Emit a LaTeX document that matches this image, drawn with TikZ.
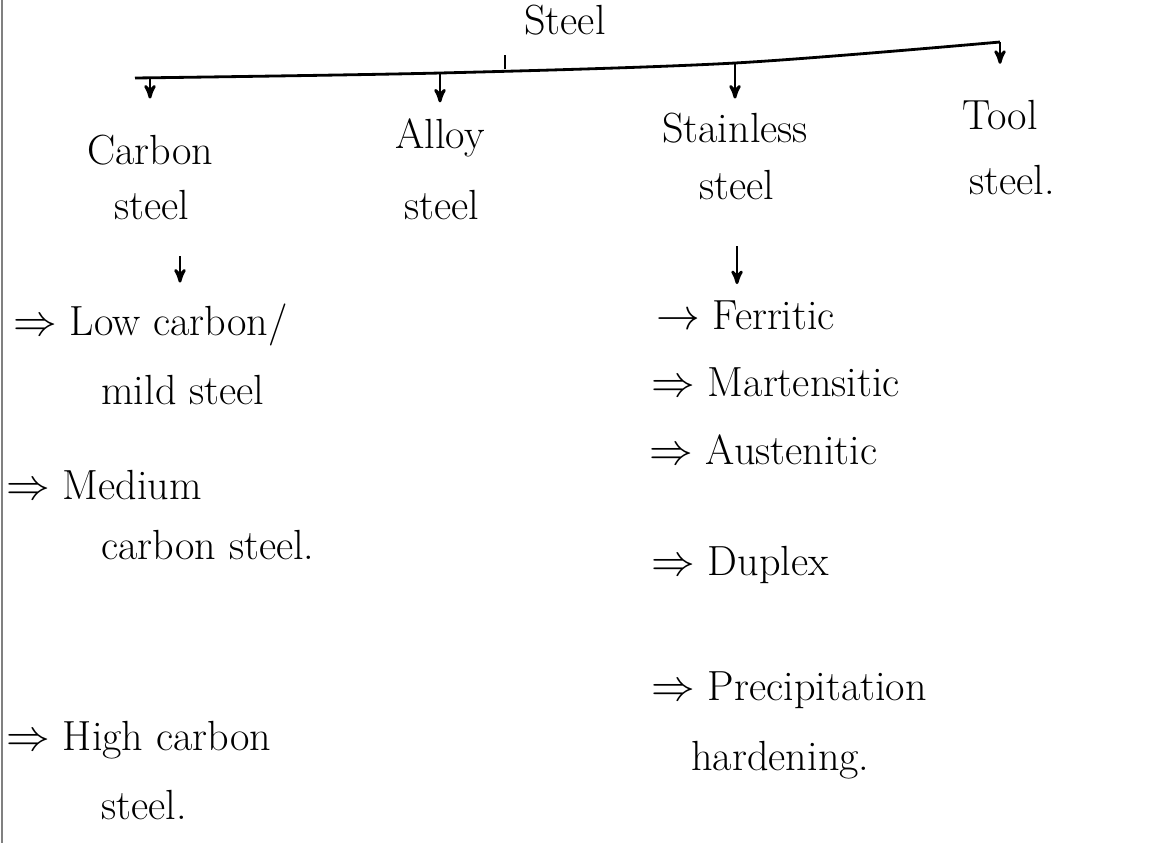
\documentclass[tikz,border=0pt]{standalone}
\usepackage{fontspec}
\usepackage{tikz}
\usetikzlibrary{arrows}

\begin{document}
\begin{tikzpicture}[x=0.02cm,y=-0.02cm,>=stealth',line width=1.6pt,
    head node/.style={inner sep=0pt,font=\fontsize{24}{28}\selectfont},
    item node/.style={head node,anchor=west}]
    \useasboundingbox (0,0) rectangle (1151,843);
    \draw[gray,line width=1.5pt] (2,0) -- (2,843);
    % top of the tree
    \node[head node] (steel) at (565,20) {Steel};
    \coordinate (b0) at (135,78);
    \coordinate (b1) at (150,77);
    \coordinate (b2) at (440,73);
    \coordinate (bc) at (505,69);
    \coordinate (b3) at (735,63);
    \coordinate (b4) at (1000,42);
    \draw plot[smooth,tension=0.5] coordinates {(b0) (b2) (b3) (b4)};
    \draw (bc) -- ++(0,-14);
    % the four kinds
    \node[head node] (carbon1) at (150,150) {Carbon};
    \node[head node] (carbon2) at (152,205) {steel};
    \node[head node] (alloy1) at (440,138) {Alloy};
    \node[head node] (alloy2) at (442,205) {steel};
    \node[head node] (stain1) at (735,128) {Stainless};
    \node[head node] (stain2) at (737,185) {steel};
    \node[head node] (tool1) at (1000,115) {Tool};
    \node[head node] (tool2) at (1012,180) {steel.};
    \draw[->,shorten >=0.7cm] (b1) -- (b1 |- carbon1.north);
    \draw[->,shorten >=0.3cm] (b2) -- (b2 |- alloy1.north);
    \draw[->,shorten >=0.26cm] (b3) -- (b3 |- stain1.north);
    \draw[->,shorten >=0.7cm] (b4) -- (b4 |- tool1.north);
    % carbon steel list
    \node[item node] (low1) at (12,325) {$\Rightarrow$ Low carbon/};
    \node[item node] (low2) at (100,390) {mild steel};
    \node[item node] (med1) at (5,485) {$\Rightarrow$ Medium};
    \node[item node] (med2) at (100,545) {carbon steel.};
    \node[item node] (high1) at (5,740) {$\Rightarrow$ High carbon};
    \node[item node] (high2) at (100,805) {steel.};
    \draw[->,shorten <=0.7cm,shorten >=0.4cm] ([xshift=0.56cm]carbon2.south) -- ([xshift=0.56cm]carbon2.south |- low1.north);
    % stainless steel list
    \node[item node] (fer) at (655,315) {$\rightarrow$ Ferritic};
    \node[item node] (mar) at (650,382) {$\Rightarrow$ Martensitic};
    \node[item node] (aus) at (648,450) {$\Rightarrow$ Austenitic};
    \node[item node] (dup) at (650,565) {$\Rightarrow$ Duplex};
    \node[item node] (pre1) at (650,690) {$\Rightarrow$ Precipitation};
    \node[item node] (pre2) at (690,760) {hardening.};
    \draw[->,shorten <=0.9cm,shorten >=0.3cm] (stain2.south) -- (stain2.south |- fer.north);
\end{tikzpicture}
\end{document}
